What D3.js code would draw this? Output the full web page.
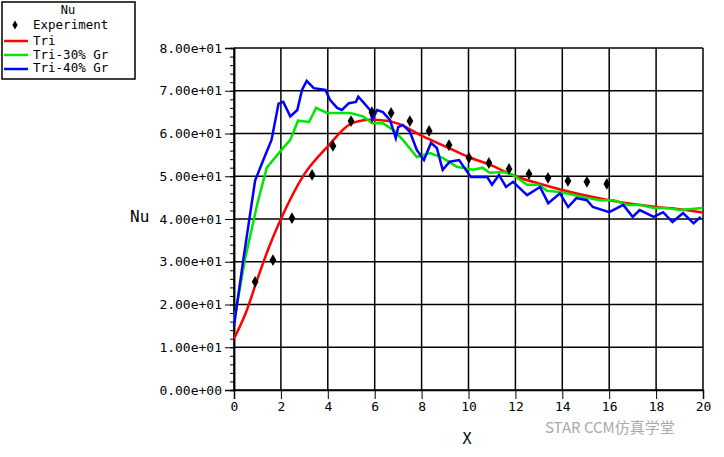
<!DOCTYPE html>
<html><head><meta charset="utf-8">
<script src="https://cdn.jsdelivr.net/npm/d3@7"></script>
<style>body{margin:0;background:#fff}text{font-family:"DejaVu Sans Mono",monospace}</style>
</head><body><div id="chart"></div>
<script>
const expX = [0.9,1.66,2.47,3.33,4.22,4.99,5.88,6.7,7.5,8.32,9.17,10.02,10.87,11.73,12.58,13.39,14.24,15.05,15.9]
const expY = [25.3,30.4,40.2,50.3,57.1,62.9,65.0,64.8,62.9,60.6,57.3,54.3,53.1,51.7,50.5,49.6,48.9,48.7,48.2]
const triLine = [[0,12],[0.5,18],[1,26],[1.5,33.5],[2,40],[3,50.5],[4,57],[5,62.3],[5.8,63.2],[6.5,63],[7,62.3],[8,59.5],[9,57],[10,54.5],[11,52.5],[12,50],[13,48.3],[14,46.8],[15,45.5],[16,44.4],[17,43.5],[18,42.8],[19,42.3],[20,41.5]]
const gr30Line = [[0,16],[0.47,30.6],[1,43.7],[1.4,52],[2,56],[2.4,58.5],[2.73,63],[3.2,62.7],[3.5,66],[3.97,64.8],[4.4,64.8],[4.95,64.8],[5.5,64],[5.9,62.4],[6.35,62.4],[6.8,60.8],[7.2,58.5],[7.8,54.5],[8.36,55.4],[8.9,54.3],[9.5,52.2],[10.2,51.5],[10.6,52],[10.9,50.8],[11.5,51],[11.9,50.3],[12.5,48],[13,48],[13.35,46.6],[13.9,46.3],[14.5,45.6],[15,45],[15.6,44.4],[16.2,44.4],[16.8,43.3],[17.3,43.3],[17.9,42.6],[18.4,42.6],[19,42.1],[20,42.6]]
const gr40Line = [[0,15],[0.4,30.6],[0.9,49],[1.25,53.8],[1.6,58.5],[1.9,67],[2.1,67.4],[2.4,64],[2.7,65.5],[2.9,70.2],[3.1,72.3],[3.4,70.6],[3.9,70.2],[4.1,67.8],[4.4,66],[4.6,65.5],[4.9,67.1],[5.2,67.4],[5.3,68.6],[5.5,67.4],[5.8,65.5],[5.9,63.2],[6.1,65.5],[6.35,65],[6.65,63.2],[6.9,58.9],[7.0,61.5],[7.2,62],[7.5,60.4],[7.8,56.1],[8.1,53.8],[8.4,57.8],[8.65,56.6],[8.9,51.5],[9.2,53.4],[9.6,53.8],[10.1,49.8],[10.8,49.8],[11,48],[11.3,50.3],[11.6,47.5],[11.9,48.7],[12.5,45.6],[13.05,47.5],[13.4,43.7],[13.9,46],[14.25,42.8],[14.6,44.9],[15.05,44.4],[15.3,42.8],[16,41.6],[16.6,43.3],[17,40.5],[17.3,42.1],[17.9,40.5],[18.3,41.6],[18.7,39.3],[19.15,41.4],[19.6,39],[19.9,40.5]]
const xTicks = [0,2,4,6,8,10,12,14,16,18,20]
const yTicks = [0,10,20,30,40,50,60,70,80]
const legendNames = ["Tri","Tri-30% Gr","Tri-40% Gr"]
const legendColors = ["#ff0000","#00e600","#0000ff"]

const svg = d3.select("#chart").append("svg").attr("width",724).attr("height",457)
const x = d3.scaleLinear().domain([0,20]).range([234,703])
const y = d3.scaleLinear().domain([0,80]).range([390,48])

// grid
svg.selectAll(".gx").data(xTicks).join("line")
  .attr("x1",d=>x(d)).attr("x2",d=>x(d)).attr("y1",y(0)).attr("y2",y(80))
  .attr("stroke","#000").attr("stroke-width",1.5)
svg.selectAll(".gy").data(yTicks).join("line")
  .attr("x1",x(0)).attr("x2",x(20)).attr("y1",d=>y(d)).attr("y2",d=>y(d))
  .attr("stroke","#000").attr("stroke-width",1.5)

const yAxis = d3.axisLeft(y).tickValues(d3.range(0,81,2)).tickSize(4).tickFormat("")
svg.append("g").attr("transform","translate(234,0)").call(yAxis)
svg.append("g").attr("transform","translate(234,0)")
  .call(d3.axisLeft(y).tickValues(yTicks).tickSize(9).tickFormat(d=>d3.format(".2e")(d).replace("e+","e+0").replace("e-","e-0")))
const xAxisG = svg.append("g").attr("transform","translate(0,390)")
xAxisG.call(d3.axisBottom(x).tickValues(d3.range(0,20.1,0.5)).tickSize(4).tickFormat(""))
xAxisG.call(d3.axisBottom(x).tickValues(xTicks).tickSize(9).tickFormat(d3.format("d")))
svg.selectAll(".domain").attr("stroke-width",1.5)
svg.selectAll(".tick text").attr("font-size",13).attr("fill","#000")

svg.append("text").attr("x",130).attr("y",222).attr("font-size",16).text("Nu")
svg.append("text").attr("x",467).attr("y",444).attr("font-size",15).attr("text-anchor","middle").text("X")

const line = d3.line().x(d=>x(d[0])).y(d=>y(d[1]))
;[triLine,gr30Line,gr40Line].forEach((s,i)=>{
  svg.append("path").datum(s).attr("d",i===0?line.curve(d3.curveMonotoneX):line.curve(d3.curveLinear)).attr("fill","none")
    .attr("stroke",legendColors[i]).attr("stroke-width",2.5)
})
svg.selectAll(".exp").data(expX).join("path")
  .attr("d",d3.symbol(d3.symbolDiamond,40))
  .attr("transform",(d,i)=>`translate(${x(d)},${y(expY[i])})`).attr("fill","#000")

// legend
const lg = svg.append("g")
lg.append("rect").attr("x",2).attr("y",2).attr("width",133).attr("height",77)
  .attr("fill","#fff").attr("stroke","#000").attr("stroke-width",1.5)
lg.append("text").attr("x",68).attr("y",14).attr("text-anchor","middle").attr("font-size",12).text("Nu")
lg.append("path").attr("d",d3.symbol(d3.symbolDiamond,24)).attr("transform","translate(15,25)")
lg.append("text").attr("x",33).attr("y",29).attr("font-size",12.5).text("Experiment")
legendNames.forEach((n,i)=>{
  lg.append("line").attr("x1",4).attr("x2",28).attr("y1",41+i*14).attr("y2",41+i*14)
    .attr("stroke",legendColors[i]).attr("stroke-width",2.5)
  lg.append("text").attr("x",33).attr("y",45+i*13.5).attr("font-size",12.5).text(n)
})

svg.append("text").attr("x",545).attr("y",433).attr("font-size",15).attr("fill","#aaa")
  .style("font-family","'Noto Sans CJK SC',sans-serif").text("STAR CCM仿真学堂")
</script></body></html>
